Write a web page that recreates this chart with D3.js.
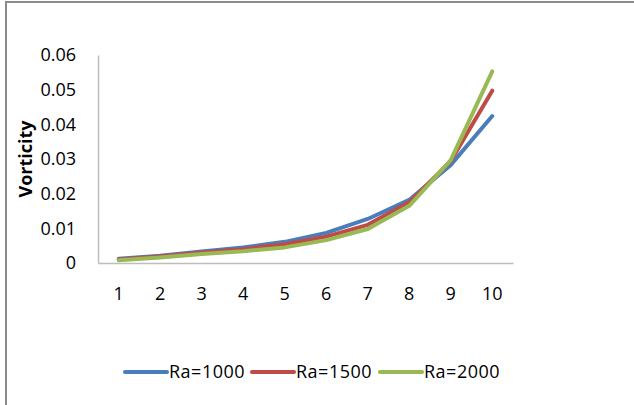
<!DOCTYPE html>
<html>
<head>
<meta charset="utf-8">
<script src="https://cdn.jsdelivr.net/npm/d3@7"></script>
<style>
  html, body { margin: 0; padding: 0; background: #ffffff; }
  svg { display: block; }
  text { font-family: "Open Sans", "Liberation Sans", sans-serif; fill: #000; }
</style>
</head>
<body>
<svg id="chart" width="634" height="405"></svg>
<script>
// Grid index along the profile
const categories = ["1", "2", "3", "4", "5", "6", "7", "8", "9", "10"];

// Vorticity for each Rayleigh number
const ra1000 = [0.0012, 0.0021, 0.0033, 0.0045, 0.0061, 0.0087, 0.0127, 0.0182, 0.0283, 0.0424];
const ra1500 = [0.0010, 0.0019, 0.0030, 0.0040, 0.0054, 0.0076, 0.0110, 0.0175, 0.0294, 0.0497];
const ra2000 = [0.0008, 0.0016, 0.0026, 0.0034, 0.0045, 0.0066, 0.0098, 0.0165, 0.0297, 0.0553];

const seriesNames = ["Ra=1000", "Ra=1500", "Ra=2000"];
const yTicks = [0, 0.01, 0.02, 0.03, 0.04, 0.05, 0.06];
const yTitle = "Vorticity";

const series = [
  { name: seriesNames[0], values: ra1000, color: "#4a7ebb" },
  { name: seriesNames[1], values: ra1500, color: "#be4b48" },
  { name: seriesNames[2], values: ra2000, color: "#98b954" }
];

const svg = d3.select("#chart");

// Outer frame of the chart area
svg.append("path")
  .attr("d", "M6,405 V2 H634")
  .attr("fill", "none")
  .attr("stroke", "#8a8a8a")
  .attr("stroke-width", 2);

const x = d3.scaleBand().domain(categories).range([98, 513]);
const y = d3.scaleLinear().domain([0, 0.06]).range([263, 55]);

// Y axis
const yAxis = svg.append("g")
  .attr("transform", "translate(98,0)")
  .call(d3.axisLeft(y).tickValues(yTicks).tickSize(0).tickSizeOuter(0).tickPadding(22)
    .tickFormat(d => d === 0 ? "0" : d3.format(".2f")(d)));
yAxis.select(".domain").attr("stroke", "#bdbdbd").attr("stroke-width", 1.5);
yAxis.selectAll("text").attr("font-size", 18).attr("font-family", "Open Sans").attr("fill", "#000");

// X axis
const xAxis = svg.append("g")
  .attr("transform", "translate(0,263)")
  .call(d3.axisBottom(x).tickSize(0).tickSizeOuter(0).tickPadding(24));
xAxis.select(".domain").attr("stroke", "#bdbdbd").attr("stroke-width", 1.5);
xAxis.selectAll("text").attr("font-size", 18).attr("font-family", "Open Sans").attr("fill", "#000");

// Axis title
svg.append("text")
  .attr("transform", "translate(26,159) rotate(-90)")
  .attr("text-anchor", "middle")
  .attr("dy", "0.35em")
  .attr("font-size", 18)
  .attr("font-weight", "bold")
  .text(yTitle);

// Series lines
const line = d3.line()
  .x((d, i) => x(categories[i]) + x.bandwidth() / 2)
  .y(d => y(d));

svg.append("g").selectAll("path")
  .data(series)
  .join("path")
  .attr("d", d => line(d.values))
  .attr("fill", "none")
  .attr("stroke", d => d.color)
  .attr("stroke-width", 4)
  .attr("stroke-linejoin", "round")
  .attr("stroke-linecap", "round");

// Legend
const legendX = [125, 252, 380];
const legend = svg.append("g").selectAll("g")
  .data(series)
  .join("g")
  .attr("transform", (d, i) => `translate(${legendX[i]},372)`);
legend.append("line")
  .attr("x1", 0).attr("x2", 42)
  .attr("stroke", d => d.color)
  .attr("stroke-width", 4)
  .attr("stroke-linecap", "round");
legend.append("text")
  .attr("x", 44)
  .attr("dy", "0.35em")
  .attr("font-size", 18)
  .attr("letter-spacing", 0.5)
  .text(d => d.name);
</script>
</body>
</html>
